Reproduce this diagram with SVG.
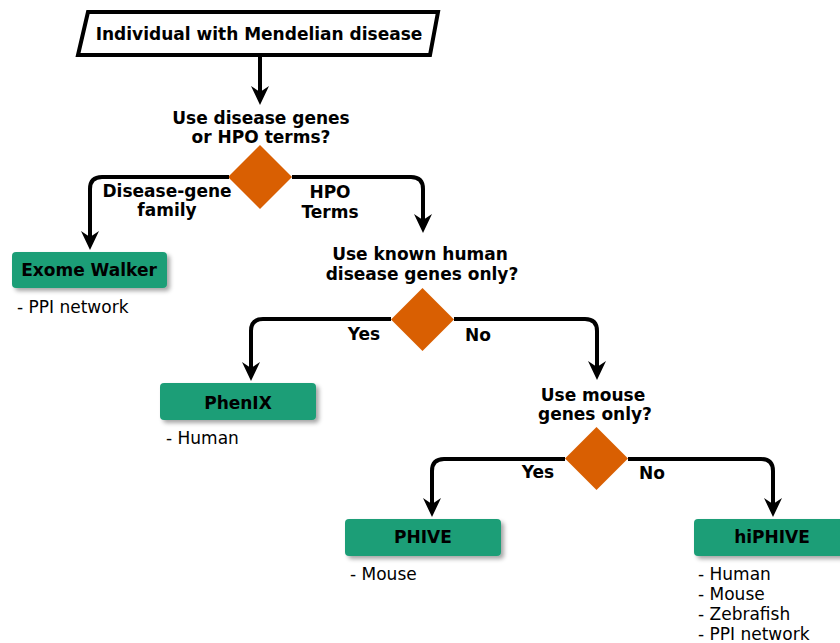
<svg xmlns="http://www.w3.org/2000/svg" width="840" height="643" viewBox="0 0 840 643">
<style>
.b{font-family:"DejaVu Sans",sans-serif;font-weight:bold;font-size:17px;fill:#000;text-anchor:middle}
.n{font-family:"DejaVu Sans",sans-serif;font-size:17px;fill:#000}
.box{fill:#1b9e77;filter:url(#sh)}
.dia{fill:#d95f02}
.con{fill:none;stroke:#000;stroke-width:4;marker-end:url(#ah)}
</style>
<defs>
<filter id="sh" x="-10%" y="-20%" width="130%" height="160%">
<feDropShadow dx="3" dy="3" stdDeviation="2" flood-color="#000" flood-opacity="0.35"/>
</filter>
<marker id="ah" markerUnits="userSpaceOnUse" markerWidth="24" markerHeight="24" viewBox="-12 -12 24 24" refX="0" refY="0" orient="auto">
<path d="M9,0 L-10,-9 L-4,0 L-10,9 Z" fill="#000"/>
</marker>
</defs>
<rect width="840" height="643" fill="#fff"/>
<g id="start">
<polygon points="88,12 438,12 430,55 78,55" fill="#fff" stroke="#000" stroke-width="4" stroke-linejoin="miter"/>
<text class="b" x="259" y="40">Individual with Mendelian disease</text>
</g>
<g id="decision1">
<text class="b" x="261" y="124">Use disease genes</text>
<text class="b" x="261" y="143">or HPO terms?</text>
<polygon class="dia" points="260,145 292,177 260,209 228,177"/>
</g>
<g id="exomewalker">
<rect class="box" x="12" y="252" width="155" height="36" rx="4"/>
<text class="b" x="89" y="276">Exome Walker</text>
<text class="n" x="17" y="313">- PPI network</text>
</g>
<g id="decision2">
<text class="b" x="420" y="260">Use known human</text>
<text class="b" x="422" y="280">disease genes only?</text>
<polygon class="dia" points="422.5,288 454,319.5 422.5,351 391,319.5"/>
</g>
<g id="phenix">
<rect class="box" x="160" y="383" width="156" height="37" rx="4"/>
<text class="b" x="238" y="409">PhenIX</text>
<text class="n" x="166" y="444">- Human</text>
</g>
<g id="decision3">
<text class="b" x="593" y="401">Use mouse</text>
<text class="b" x="595" y="420">genes only?</text>
<polygon class="dia" points="596.5,427 628,458.5 596.5,490 565,458.5"/>
</g>
<g id="phive">
<rect class="box" x="345" y="519" width="156" height="37" rx="4"/>
<text class="b" x="423" y="543">PHIVE</text>
<text class="n" x="350" y="580">- Mouse</text>
</g>
<g id="hiphive">
<rect class="box" x="694" y="519" width="156" height="37" rx="4"/>
<text class="b" x="772" y="543">hiPHIVE</text>
<text class="n" x="698" y="580">- Human</text>
<text class="n" x="698" y="600">- Mouse</text>
<text class="n" x="698" y="620">- Zebrafish</text>
<text class="n" x="698" y="640">- PPI network</text>
</g>
<g id="connectors">
<path class="con" d="M260,56 V96"/>
<path class="con" d="M229,177 H102 Q90,177 90,189 V241"/>
<path class="con" d="M292,177 H411 Q423,177 423,189 V224"/>
<path class="con" d="M391,319 H263 Q251,319 251,331 V372"/>
<path class="con" d="M454,319 H585 Q597,319 597,331 V371"/>
<path class="con" d="M565,459 H444 Q432,459 432,471 V508"/>
<path class="con" d="M628,459 H761 Q773,459 773,471 V508"/>
<text class="b" x="167" y="197">Disease-gene</text>
<text class="b" x="167" y="216">family</text>
<text class="b" x="330" y="198">HPO</text>
<text class="b" x="330" y="218">Terms</text>
<text class="b" x="364" y="340">Yes</text>
<text class="b" x="478" y="341">No</text>
<text class="b" x="538" y="478">Yes</text>
<text class="b" x="652" y="479">No</text>
</g>
</svg>
